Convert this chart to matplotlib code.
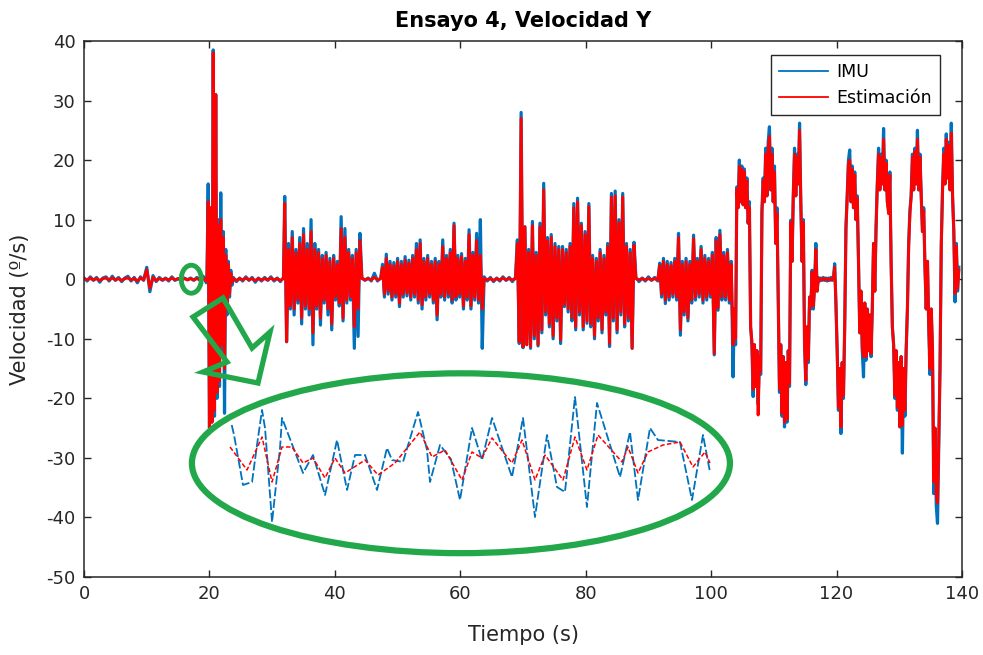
import numpy as np
import matplotlib
matplotlib.use("Agg")
import matplotlib.pyplot as plt
from matplotlib.patches import Ellipse, Polygon

# ---------------- data ----------------
# each segment: start time (s), sample step (s), IMU values, estimation values
imu_q1 = [0.2,-0.3,0.4,-0.2,0.3,-0.5,0.2,0.4,-0.3,0.5,-0.2,0.3,-0.4,0.2,0.5,-0.3,0.3,-0.6,0.4,-0.2,
          2.0,-2.1,0.6,-0.4,0.3,-0.2,0.2,-0.3,0.4,-0.2,0.1,-0.2,0.2,-0.1,0.2,-0.2,0.3,-0.2,0.5,-0.6]
est_q1 = [0.1,-0.1,0.2,-0.1,0.1,-0.2,0.1,0.2,-0.1,0.2,-0.1,0.1,-0.2,0.1,0.2,-0.1,0.1,-0.3,0.2,-0.1,
          1.6,-1.5,0.3,-0.2,0.1,-0.1,0.1,-0.1,0.2,-0.1,0.1,-0.1,0.1,-0.1,0.1,-0.1,0.1,-0.1,0.2,-0.3]

imu_a = [0.5,16,-25,12,-24,38.5,-23,31,-20,10,-18,14.5,-12,8,-22.5,5,-6,3,-3,1.5,-1]
est_a = [0.3,13,-25,12,-24,38,-22,31,-19,9,-17,10,-11,7,-15,4,-5,2.5,-2.5,1,-0.5]

imu_qb = [0.3,-0.4,0.2,-0.3,0.4,-0.2,0.3,-0.5,0.2,-0.3,0.3,-0.2,0.4,-0.3,0.2,-0.4,0.3]
est_qb = [0.1,-0.2,0.1,-0.1,0.2,-0.1,0.1,-0.2,0.1,-0.1,0.1,-0.1,0.2,-0.1,0.1,-0.2,0.1]

imu_b1 = [13.9,-10.5,6,-5,8,-6,5,-4,7,-7.5,8.5,-5,6,-6,10,-11,6,-5,5,-7.7,4,-4,4.5,-6,3.5,-8.5,
          4,-3.5,3,-4.5,10.5,-7,8.5,-4,5,-3.5,4,-11.6,5,-9.6,7.7]
est_b1 = [12.7,-10.5,5,-4.5,7,-5,4.5,-3.5,6,-6.5,7.5,-4.5,5,-5,8,-9,5,-4.5,4.5,-6.5,3.5,-3.5,4,-5,
          3,-7.5,3.5,-3,2.5,-4,8.5,-6.5,7,-3.5,4.5,-3,3.5,-8,4.5,-5,6.5]

imu_qc = [0.3,-0.2,0.2,-0.3,1.0,-0.3,0.2]
est_qc = [0.1,-0.1,0.1,-0.1,0.3,-0.1,0.1]

imu_b2 = [2.5,-3,4.2,-2.5,3,-3.5,2.8,-3,3.5,-4.6,3,-3,3.8,-2.8,3.2,-3.5,4,-3,6,-4,6.6,-5,3.5,-3.5,
          4,-3,3,-4,3.5,-6.8,3,-3,6.6,-3.5,4,-3,5,-4,9.4,-3.5,4,-3,4.3,-5,3.5,-3.5,8.3,-5,4.5,-3.5,
          7.7,-4,10,-11.6]
est_b2 = [2,-2.5,3.5,-2,2.5,-3,2.3,-2.5,3,-4,2.5,-2.5,3.2,-2.3,2.7,-3,3.5,-2.5,5,-3.5,6,-4.3,3,-3,
          3.5,-2.5,2.5,-3.5,3,-6,2.5,-2.5,5.5,-3,3.5,-2.5,4.5,-3.5,9,-3,3.5,-2.5,3.8,-4.5,3,-3,7.5,
          -4.5,4,-3,6.5,-3.5,4,-5]

imu_qd = [0.4,-0.3,0.3,-0.4,0.2,-0.3,0.4,-0.2,0.3,-0.4,0.3]
est_qd = [0.1,-0.1,0.1,-0.2,0.1,-0.1,0.2,-0.1,0.1,-0.1,0.1]

imu_c1 = [6.6,-10.8,28,-11.5,8.8,-11,5,-11.6,9.7,-10,4.5,-11.2,9.4,-9,16.1,-6,7,-8,7.5,-10,6,-7,
          5.5,-10.8,5.5,-4.6,5,-5.5,6,-7,12.7,-8.5,13.6,-6,9.4,-8.5,8,-7.4,12.7,-8,4,-10,3.5,-7,
          5,-9,4,-6,6,-11.3,14.4,-7,14.8,-9,10,-6,14.4,-8,6,-7,5,-11.6,6.2]
est_c1 = [6,-10.5,27,-11.3,8.8,-11,4.5,-11.3,9,-9.5,4,-11,8.8,-8.5,15,-5.5,6.5,-7.5,7,-9.5,5.5,
          -6.5,5,-10.2,5,-4.2,4.5,-5,5.5,-6.5,12,-8,13,-5.5,9,-8,7.5,-7,12.2,-7.5,3.5,-9.5,3,-6.5,
          4.5,-8.5,3.5,-5.5,5.5,-10.8,13.8,-6.5,14,-8.5,9.5,-5.5,13.8,-7.5,5.5,-6.5,4.5,-11.6,5.7]

imu_qe = [0.3,-0.4,0.2,-0.3,0.4,-0.2,0.3,-0.3]
est_qe = [0.1,-0.1,0.1,-0.1,0.1,-0.1,0.1,-0.1]

imu_c2 = [2.7,-3,3.5,-4.1,3,-3.5,2.8,-3,3.5,-3.5,7.7,-9.4,3,-6,3.5,-7,3,-4,7.4,-3.5,3.5,-3,5.5,
          -4,4,-3.5,3.5,-3,4.5,-12.7,7,-5.2,8.2,-3.5,4.5,-3.5,5,-4,3]
est_c2 = [2.3,-2.5,3,-3.5,2.5,-3,2.3,-2.5,3,-3,7,-8.5,2.5,-5.5,3,-6.5,2.5,-3.5,6.8,-3,3,-2.5,5,
          -3.5,3.5,-3,3,-2.5,4,-12.5,6.5,-4.8,7.5,-3,4,-3,4.5,-3.5,2.5]

imu_d = [-16.4,-5,-11, 15.5,
         12,20,13,19,12.5,18.5,12,17, 9.4,13,-8,
         -11,-19.7,-11,-18,-12,-21,-13,-16, 11.6,17,
         13,22,14,23,25.6,15,22,13,19, 6,12,-3,
         -19,-11,-23,-13,-24.8,-14,-24,-12,-18, 9.9,3,
         14,22,14,21,16,26.2,13, 3,10,-11,
         -17.7,-8,-14,-3,-5,1.5,-5,-1,6,-2,
         0.3,-0.3,0.2,-0.2,0.3,-0.2,0.2,-0.3,0.2,-0.2,0.3,-0.2,0.2, 2.6,-4,
         -12,-22,-15,-25.9,-14,-20, -8,8.8,
         14,20,21.7,13,19,12,18,10, 14,3,
         -9,-2,-12,-16.4,-4,-13.6,-5,-12,-6,-13,-5, 6,-2,8.8,
         16,22,15,21,16,25.3,15,20, 13,11.6,18,3,-8,
         -11,-20,-12,-22,-14,-24.8,-13,-29.2,-15,-23,-12, -5,6,11.6,
         14,21,15,22,16,25,15,21,14, 8,12,2,-5,3,-8,-16,-5,-12,
         -36,-25,-38,-41,-28, -15,6,
         15,22,16,24.4,17,23,15,26.2,14, 8,-3.8,6,-2,2]
est_d = [-11,-5,-10, 15,
         12,19,13,18.5,12.5,18,12,16.5, 9.4,12,-8,
         -10.5,-18.5,-11,-18,-12,-22.8,-13,-15.5, 11,16.5,
         13,21,14,22,24,15,21,13,18, 6,11,-3,
         -18.5,-11,-22.5,-13,-24,-14,-23.5,-12,-17.5, 9.5,3,
         14,21,14,20.5,16,25,13, 3,9.5,-11,
         -17,-8,-13.5,-3,-4.5,1.2,-4.5,-1,5,-2,
         0.1,-0.1,0.1,-0.1,0.1,-0.1,0.1,-0.1,0.1,-0.1,0.1,-0.1,0.1, 2,-4,
         -12,-21.5,-15,-24.8,-14,-19.5, -8,8.5,
         14,19.5,20,13,18.5,12,17.5,10, 13.5,3,
         -9,-2,-11.5,-13,-4,-13,-5,-12,-6,-12.5,-5, 6,-2,8.5,
         16,21,15,20.5,16,23.5,15,19.5, 13,11,17.5,3,-8,
         -11,-19.5,-12,-21.5,-14,-24.8,-13,-24.5,-15,-22,-12, -5,5.5,11,
         14,20.5,15,21.5,16,23.5,15,20.5,14, 8,11.5,2,-5,3,-7.5,-15,-5,-11.5,
         -34,-25,-36,-37.6,-27, -15,5.5,
         15,21,16,23.5,17,22.5,15,24.5,14, 8,-2.4,5.5,-1.5,1.5]

segments = [
    (0.0, 0.5, imu_q1, est_q1),
    (19.6, 0.2, imu_a, est_a),
    (23.8, 0.5, imu_qb, est_qb),
    (32.0, 0.3, imu_b1, est_b1),
    (44.3, 0.5, imu_qc, est_qc),
    (47.6, 0.3, imu_b2, est_b2),
    (63.8, 0.5, imu_qd, est_qd),
    (69.1, 0.3, imu_c1, est_c1),
    (88.0, 0.5, imu_qe, est_qe),
    (91.8, 0.3, imu_c2, est_c2),
    (103.5, 0.2, imu_d, est_d),
]

# zoomed detail drawn inside the green ellipse (in axis units)
inset_imu_t = [23.55,23.92,25.35,26.79,27.58,28.38,28.86,29.98,31.25,31.57,33.64,34.92,36.51,38.43,
               40.34,41.94,43.21,44.81,46.72,48.31,49.11,50.86,53.26,54.69,55.17,56.76,58.5,59.95,
               61.87,63.46,65.06,68.24,70.00,71.91,73.83,75.42,76.69,78.29,80.20,81.80,85.47,87.06,
               88.34,90.25,91.52,95.03,96.95,98.70,99.82]
inset_imu_v = [-24.48,-26.16,-34.55,-34.05,-27.84,-21.96,-24.98,-40.77,-28.34,-23.30,-29.01,-32.54,
               -29.52,-36.23,-27.00,-35.39,-29.52,-29.52,-35.39,-28.34,-30.36,-30.69,-22.29,-28.68,
               -34.05,-27.84,-30.2,-37.07,-24.98,-30.36,-23.30,-33.21,-23.30,-39.93,-26.16,-34.89,
               -35.73,-19.78,-38.25,-20.78,-33.21,-25.65,-37.07,-24.98,-27.00,-27.33,-37.07,-26.16,
               -32.37]
inset_est_t = [23.28,25.99,28.38,29.98,31.57,33.17,34.92,36.51,38.43,40.02,41.62,44.81,46.88,49.59,
               53.57,55.49,57.56,60.27,61.87,63.46,65.06,68.24,69.84,71.91,73.51,76.38,78.29,80.20,
               81.96,85.79,86.74,88.34,89.93,92.32,95.03,97.11,99.02,99.82]
inset_est_v = [-28.17,-32.03,-26.49,-34.05,-28.17,-28.17,-30.86,-30.02,-33.38,-30.02,-32.54,-30.36,
               -32.87,-30.86,-25.65,-29.85,-28.68,-33.71,-29.01,-30.02,-26.66,-30.86,-27.00,-33.71,
               -29.52,-33.71,-26.49,-32.03,-26.16,-30.69,-28.17,-32.54,-29.01,-27.84,-27.33,-31.53,
               -29.01,-30.86]

# green annotation shapes (axis units)
big_ellipse = (60.1, -30.9, 85.8, 30.2)
small_ellipse = (17.1, 0.0, 3.2, 4.7)
arrow_x = [17.38, 22.16, 26.79, 29.66, 27.74, 18.97, 22.80]
arrow_y = [-6.34, -3.15, -11.55, -8.86, -17.43, -15.58, -13.90]

x_ticks = [0, 20, 40, 60, 80, 100, 120, 140]
y_ticks = [-50, -40, -30, -20, -10, 0, 10, 20, 30, 40]

# ---------------- build series ----------------
t_imu, v_imu, t_est, v_est = [], [], [], []
for start, step, vi, ve in segments:
    t_imu.append(start + step * np.arange(len(vi)))
    v_imu.append(np.asarray(vi, float))
    t_est.append(start + step * np.arange(len(ve)))
    v_est.append(np.asarray(ve, float))
t_imu = np.concatenate(t_imu); v_imu = np.concatenate(v_imu)
t_est = np.concatenate(t_est); v_est = np.concatenate(v_est)

BLUE = "#0072BD"
RED = "#FF0000"
GREEN = "#22A84A"
AXC = "#262626"

plt.rcParams["font.family"] = ["DejaVu Sans"]
plt.rcParams["axes.unicode_minus"] = False

fig = plt.figure(figsize=(9.83, 6.55), dpi=100)
ax = fig.add_axes([0.0855, 0.1191, 0.8931, 0.8183])

ax.plot(t_imu, v_imu, color=BLUE, lw=2.3, label="IMU")
ax.plot(t_est, v_est, color=RED, lw=2.1, label="Estimación")

# inset detail
ax.plot(inset_imu_t, inset_imu_v, color=BLUE, lw=1.3, dashes=(5, 1.5))
ax.plot(inset_est_t, inset_est_v, color=RED, lw=1.1, dashes=(3, 1.5))

cx, cy, w, h = big_ellipse
ax.add_patch(Ellipse((cx, cy), w, h, fill=False, ec=GREEN, lw=4.5, zorder=5))
cx, cy, w, h = small_ellipse
ax.add_patch(Ellipse((cx, cy), w, h, fill=False, ec=GREEN, lw=3.5, zorder=5))
ax.add_patch(Polygon(np.column_stack([arrow_x, arrow_y]), closed=True, fill=False,
                     ec=GREEN, lw=3.8, joinstyle="miter", zorder=5))

ax.set_xlim(0, 140)
ax.set_ylim(-50, 40)
ax.set_xticks(x_ticks)
ax.set_yticks(y_ticks)
ax.tick_params(direction="in", top=True, right=True, length=5, width=1.0,
               labelsize=13, colors=AXC, pad=6)
for s in ax.spines.values():
    s.set_color(AXC)
    s.set_linewidth(1.1)

ax.set_title("Ensayo 4, Velocidad Y", fontsize=15, fontweight="bold", pad=10)
ax.set_xlabel("Tiempo (s)", fontsize=15, color=AXC)
ax.set_ylabel("Velocidad (º/s)", fontsize=15, color=AXC)
ax.xaxis.set_label_coords(0.5, -0.09)
ax.yaxis.set_label_coords(-0.062, 0.5)

leg = ax.legend(loc="upper right", bbox_to_anchor=(0.975, 0.974), borderaxespad=0,
                fontsize=12.5, handlelength=2.8, fancybox=False, framealpha=1,
                edgecolor=AXC, borderpad=0.45, labelspacing=0.5, handletextpad=0.5)
leg.get_frame().set_linewidth(1.0)
for ln in leg.get_lines():
    ln.set_linewidth(1.3)

fig.savefig("out.png", dpi=100)
